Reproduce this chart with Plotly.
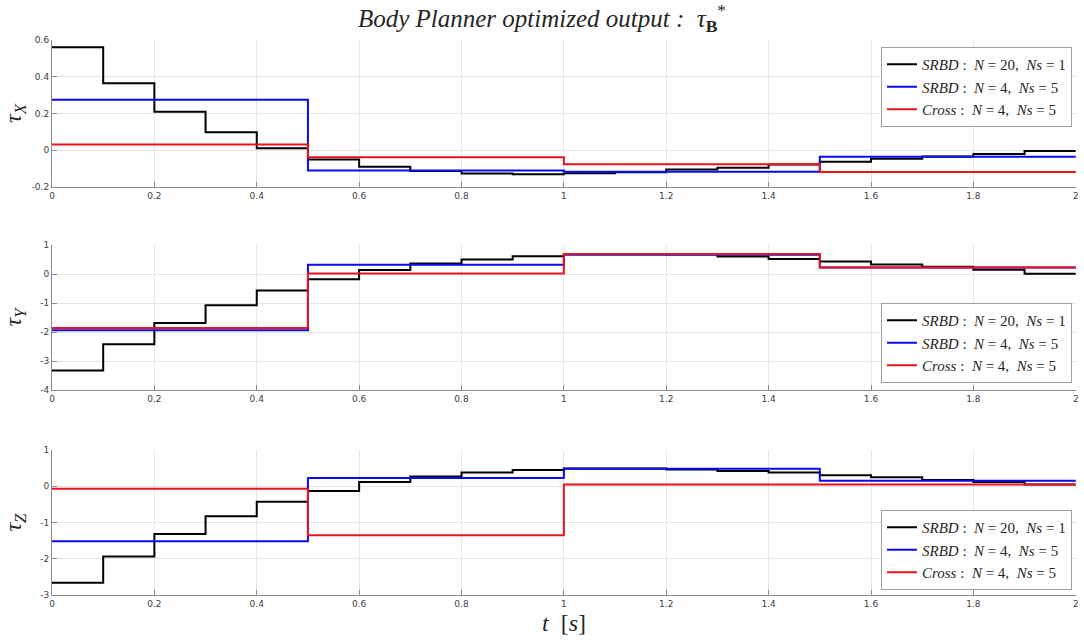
import plotly.graph_objects as go

# ---- data ----
t_fine = [round(0.1 * i, 1) for i in range(21)]          # 0 .. 2.0
t_coarse = [0.0, 0.5, 1.0, 1.5, 2.0]

tauX_srbd20 = [0.56, 0.365, 0.21, 0.098, 0.011, -0.05, -0.09, -0.113, -0.127, -0.13,
               -0.125, -0.12, -0.105, -0.095, -0.077, -0.063, -0.046, -0.034, -0.02, -0.004]
tauX_srbd4 = [0.275, -0.11, -0.117, -0.035]
tauX_cross4 = [0.031, -0.038, -0.076, -0.118]

tauY_srbd20 = [-3.33, -2.42, -1.69, -1.08, -0.57, -0.18, 0.14, 0.36, 0.5, 0.61,
               0.69, 0.69, 0.68, 0.6, 0.52, 0.43, 0.33, 0.25, 0.15, 0.01]
tauY_srbd4 = [-1.94, 0.32, 0.66, 0.22]
tauY_cross4 = [-1.86, 0.02, 0.69, 0.22]

tauZ_srbd20 = [-2.66, -1.94, -1.32, -0.83, -0.43, -0.13, 0.12, 0.27, 0.38, 0.45,
               0.49, 0.49, 0.46, 0.42, 0.38, 0.3, 0.25, 0.17, 0.12, 0.05]
tauZ_srbd4 = [-1.52, 0.23, 0.48, 0.15]
tauZ_cross4 = [-0.07, -1.35, 0.05, 0.05]

NB = "\u00a0"
series_names = [
    f"<i>SRBD</i>{NB}:{NB}{NB}<i>N</i>{NB}={NB}20,{NB}{NB}<i>Ns</i>{NB}={NB}1",
    f"<i>SRBD</i>{NB}:{NB}{NB}<i>N</i>{NB}={NB}4,{NB}{NB}<i>Ns</i>{NB}={NB}5",
    f"<i>Cross</i>{NB}:{NB}{NB}<i>N</i>{NB}={NB}4,{NB}{NB}<i>Ns</i>{NB}={NB}5",
]
series_colors = ["#000000", "#0a0af0", "#e8141c"]

x_ticks = [0, 0.2, 0.4, 0.6, 0.8, 1, 1.2, 1.4, 1.6, 1.8, 2]
x_ticktext = ["0", "0.2", "0.4", "0.6", "0.8", "1", "1.2", "1.4", "1.6", "1.8", "2"]
yX_ticks = [-0.2, 0, 0.2, 0.4, 0.6]
yX_ticktext = ["-0.2", "0", "0.2", "0.4", "0.6"]
yY_ticks = [-4, -3, -2, -1, 0, 1]
yY_ticktext = ["-4", "-3", "-2", "-1", "0", "1"]
yZ_ticks = [-3, -2, -1, 0, 1]
yZ_ticktext = ["-3", "-2", "-1", "0", "1"]

panels = [
    (tauX_srbd20, tauX_srbd4, tauX_cross4, "<i>τ<sub>X</sub></i>", [-0.2, 0.6], yX_ticks, yX_ticktext),
    (tauY_srbd20, tauY_srbd4, tauY_cross4, "<i>τ<sub>Y</sub></i>", [-4, 1], yY_ticks, yY_ticktext),
    (tauZ_srbd20, tauZ_srbd4, tauZ_cross4, "<i>τ<sub>Z</sub></i>", [-3, 1], yZ_ticks, yZ_ticktext),
]

W, H = 1084, 644
x_dom = [52 / W, 1076 / W]
y_px = [(40, 187), (245, 390), (450, 595)]
legend_pos = [(1072 / W, 1 - 47 / H, "top"), (1072 / W, 1 - 383 / H, "bottom"), (1072 / W, 1 - 590 / H, "bottom")]

fig = go.Figure()
layout = {}
for i, (a, b, c, ylab, yr, yt, ytt) in enumerate(panels):
    k = "" if i == 0 else str(i + 1)
    leg = "legend" if i == 0 else "legend" + str(i + 1)
    for vals, tt, name, col in zip([a, b, c], [t_fine, t_coarse, t_coarse], series_names, series_colors):
        fig.add_trace(go.Scatter(
            x=tt, y=list(vals) + [vals[-1]], mode="lines", line_shape="hv",
            line=dict(color=col, width=2), name=name,
            xaxis="x" + k, yaxis="y" + k, legend=leg))
    top, bot = y_px[i]
    axis_common = dict(showgrid=True, gridcolor="#e6e6e6", gridwidth=1, zeroline=False,
                       showline=True, linecolor="#8c8c8c", linewidth=1, ticks="inside",
                       ticklen=5, tickcolor="#8c8c8c", automargin=False,
                       ticklabeloverflow="allow",
                       tickfont=dict(family="DejaVu Sans", size=9, color="#404040"))
    layout["xaxis" + k] = dict(domain=x_dom, range=[0, 2.0005], anchor="y" + k,
                               tickvals=x_ticks, ticktext=x_ticktext, **axis_common)
    layout["yaxis" + k] = dict(domain=[1 - bot / H, 1 - top / H], range=yr, anchor="x" + k,
                               tickvals=yt, ticktext=ytt,
                               title=dict(text=ylab, standoff=14,
                                          font=dict(family="Liberation Serif", size=24, color="#262626")),
                               **axis_common)
    lx, ly, ya = legend_pos[i]
    layout[leg] = dict(x=lx, y=ly, xanchor="right", yanchor=ya, bgcolor="white",
                       bordercolor="#a0a0a0", borderwidth=1, tracegroupgap=0,
                       font=dict(family="Liberation Serif", size=15, color="#262626"),
                       itemwidth=30)

layout["xaxis3"]["title"] = dict(text="<i>t</i>  [<i>s</i>]", standoff=6,
                                 font=dict(family="Liberation Serif", size=24, color="#262626"))

fig.update_layout(**layout)
fig.update_layout(
    width=W, height=H, paper_bgcolor="white", plot_bgcolor="white",
    margin=dict(l=0, r=0, t=0, b=0, autoexpand=False),
    title=dict(text=f"<i>Body{NB}Planner{NB}optimized{NB}output{NB}:</i>{NB}{NB}<i>τ</i><sub><b>B</b></sub><sup>*</sup>",
               x=0.5, xanchor="center", y=1 - 18 / H, yanchor="middle",
               font=dict(family="Liberation Serif", size=25, color="#262626")),
    showlegend=True,
)
fig.write_html("out.html", config={"displayModeBar": False},
               post_script="document.body.style.margin='0';document.body.style.overflow='hidden';")
